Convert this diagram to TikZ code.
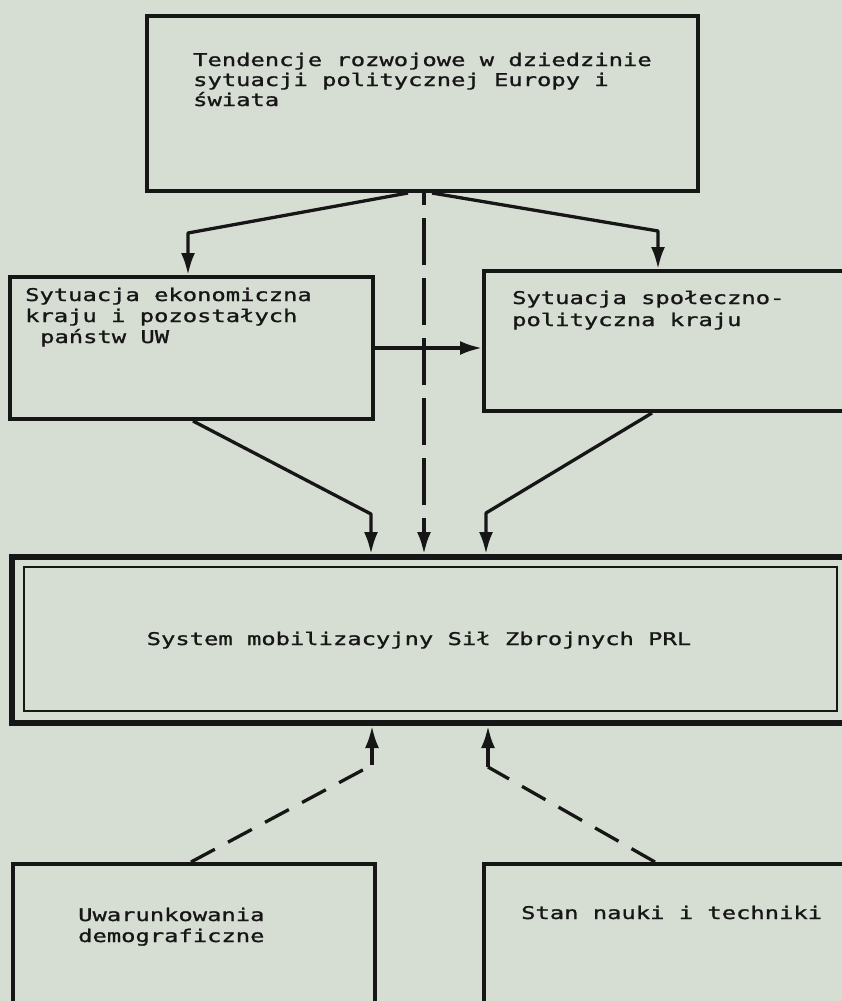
\documentclass[tikz,border=0pt]{standalone}
\usepackage{fontspec}
\usetikzlibrary{arrows.meta}
\newfontfamily\typew{DejaVu Sans Mono}[FakeStretch=1.36, FakeBold=1.2]
\definecolor{paper}{RGB}{214,221,211}
\definecolor{ink}{RGB}{22,22,22}
\tikzset{
  box/.style   = {draw=ink, line width=4pt, rectangle, inner sep=0pt},
  txt/.style   = {inner sep=0pt, align=left, text=ink,
                  font={\typew\fontsize{17.5}{21}\selectfont\lineskiplimit=-50pt}},
  link/.style  = {draw=ink, line width=3.3pt, line join=round,
                  -{Latex[length=22pt, width=14pt]}},
  dlink/.style = {draw=ink, line width=3.3pt, dash pattern=on 27pt off 15pt},
}

\begin{document}
\begin{tikzpicture}[x=1pt, y=-1pt]
  \path[use as bounding box, fill=paper] (0,0) rectangle (842,1001);
  \clip (0,0) rectangle (842,1001);

  \node[box, minimum width=551pt, minimum height=175pt] (trend) at (422.5,103.5) {};
  \node[box, minimum width=363pt, minimum height=142pt] (econ) at (191.5,348) {};
  \node[box, minimum width=416pt, minimum height=140pt] (soc) at (692,341) {};
  \node[box, line width=6pt, minimum width=888pt, minimum height=166pt] (sys) at (456,640) {};
  \node[box, line width=2pt, minimum width=813pt, minimum height=144pt] (sysin) at (430.5,639) {};
  \node[box, minimum width=362pt, minimum height=236pt] (demo) at (194,982) {};
  \node[box, minimum width=416pt, minimum height=236pt] (tech) at (692,982) {};

  \node[txt, anchor=base west,
    font={\typew\fontsize{17.5}{20}\selectfont\lineskiplimit=-50pt}] (trendtxt) at (193,106)
    {Tendencje rozwojowe w dziedzinie\\sytuacji politycznej Europy i\\świata};
  \node[txt, anchor=base west] (econtxt) at (25,343)
    {Sytuacja ekonomiczna\\kraju i pozostałych\\\hspace*{15pt}państw UW};
  \node[txt, anchor=base west, font={\typew\fontsize{17.5}{22}\selectfont}] (soctxt) at (512,326)
    {Sytuacja społeczno-\\polityczna kraju};
  \node[txt, anchor=base] (systxt) at (419,645) {System mobilizacyjny Sił Zbrojnych PRL};
  \node[txt, anchor=base west] (demotxt) at (78,942)
    {Uwarunkowania\\demograficzne};
  \node[txt, anchor=base west] (techtxt) at (521,919) {Stan nauki i techniki};

  \coordinate (tl) at (188,233);
  \coordinate (tr) at (658,231);
  \coordinate (ml) at (371,514);
  \coordinate (mr) at (486,513);
  \coordinate (bl) at (372,765);
  \coordinate (br) at (488,767);
  \coordinate (dm) at ([xshift=1.5pt]trend.south);

  \draw[link] ([xshift=-14.5pt]trend.south) -- (tl) -- (tl |- econ.north);
  \draw[link] ([xshift=9.5pt]trend.south) -- (tr) -- (tr |- soc.north);
  \draw[link, dash pattern=on 47pt off 13pt, dash phase=35pt] (dm) -- (dm |- sys.north);
  \draw[link] (econ.east) -- (econ.east -| soc.west);
  \draw[link] ([xshift=1.5pt]econ.south) -- (ml) -- (ml |- sys.north);
  \draw[link] ([xshift=-40pt]soc.south) -- (mr) -- (mr |- sys.north);
  \draw[dlink] ([xshift=-3pt]demo.north) -- (bl);
  \draw[link] (bl) -- (bl |- sys.south);
  \draw[dlink] ([xshift=-37pt]tech.north) -- (br);
  \draw[link] (br) -- (br |- sys.south);
\end{tikzpicture}
\end{document}
